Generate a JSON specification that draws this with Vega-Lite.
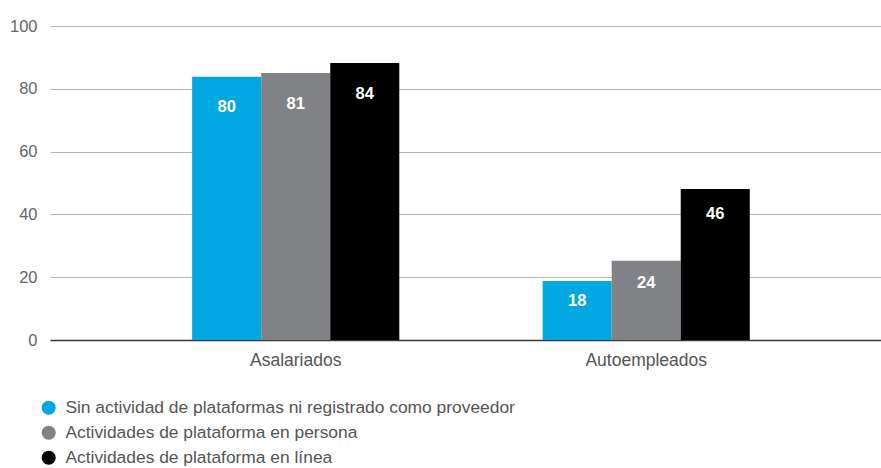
{
  "$schema": "https://vega.github.io/schema/vega-lite/v6.json",
  "width": 831,
  "height": 314,
  "autosize": {"type": "none"},
  "padding": {"left": 50, "top": 26, "right": 0, "bottom": 128},
  "background": "white",
  "config": {
    "view": {"stroke": null},
    "font": "Liberation Sans"
  },
  "data": {
    "values": [
      {"grupo": "Asalariados", "serie": "Sin actividad de plataformas ni registrado como proveedor", "valor": 80, "altura": 83.8},
      {"grupo": "Asalariados", "serie": "Actividades de plataforma en persona", "valor": 81, "altura": 85.0},
      {"grupo": "Asalariados", "serie": "Actividades de plataforma en línea", "valor": 84, "altura": 88.2},
      {"grupo": "Autoempleados", "serie": "Sin actividad de plataformas ni registrado como proveedor", "valor": 18, "altura": 18.8},
      {"grupo": "Autoempleados", "serie": "Actividades de plataforma en persona", "valor": 24, "altura": 25.2},
      {"grupo": "Autoempleados", "serie": "Actividades de plataforma en línea", "valor": 46, "altura": 48.1}
    ]
  },
  "encoding": {
    "x": {
      "field": "grupo", "type": "nominal",
      "scale": {"paddingInner": 0.409, "paddingOuter": 0.39, "align": 0.52},
      "axis": {
        "title": null, "labelAngle": 0, "labelFontSize": 17.5, "labelColor": "#555555",
        "labelPadding": 11, "ticks": false, "domainColor": "#3a3a3a", "domainWidth": 1.5,
        "grid": false, "labelFont": "Liberation Sans"
      }
    },
    "xOffset": {
      "field": "serie", "type": "nominal",
      "sort": ["Sin actividad de plataformas ni registrado como proveedor", "Actividades de plataforma en persona", "Actividades de plataforma en línea"],
      "scale": {"paddingInner": 0, "paddingOuter": 0}
    }
  },
  "layer": [
    {
      "mark": {"type": "bar"},
      "encoding": {
        "y": {
          "field": "altura", "type": "quantitative",
          "scale": {"domain": [0, 100]},
          "axis": {
            "title": null, "values": [0, 20, 40, 60, 80, 100], "labelFontSize": 16.5,
            "labelColor": "#666666", "labelPadding": 13, "ticks": false, "domain": false,
            "gridColor": "#b5b5b5", "gridWidth": 1, "labelFont": "Liberation Sans"
          }
        },
        "color": {
          "field": "serie", "type": "nominal",
          "scale": {
            "domain": ["Sin actividad de plataformas ni registrado como proveedor", "Actividades de plataforma en persona", "Actividades de plataforma en línea"],
            "range": ["#00A8E1", "#808285", "#000000"]
          },
          "legend": {
            "title": null, "orient": "none", "legendX": -10, "legendY": 373,
            "direction": "vertical", "symbolType": "circle", "symbolSize": 200,
            "symbolStrokeWidth": 0, "labelFontSize": 17.4, "labelColor": "#555555",
            "labelFont": "Liberation Sans", "rowPadding": 6, "labelOffset": 8, "labelLimit": 0
          }
        }
      }
    },
    {
      "mark": {"type": "text", "color": "white", "fontWeight": "bold", "fontSize": 16.5, "baseline": "middle", "dy": 18, "font": "Liberation Sans"},
      "encoding": {
        "y": {"field": "valor", "type": "quantitative"},
        "text": {"field": "valor", "type": "quantitative"}
      }
    }
  ]
}
